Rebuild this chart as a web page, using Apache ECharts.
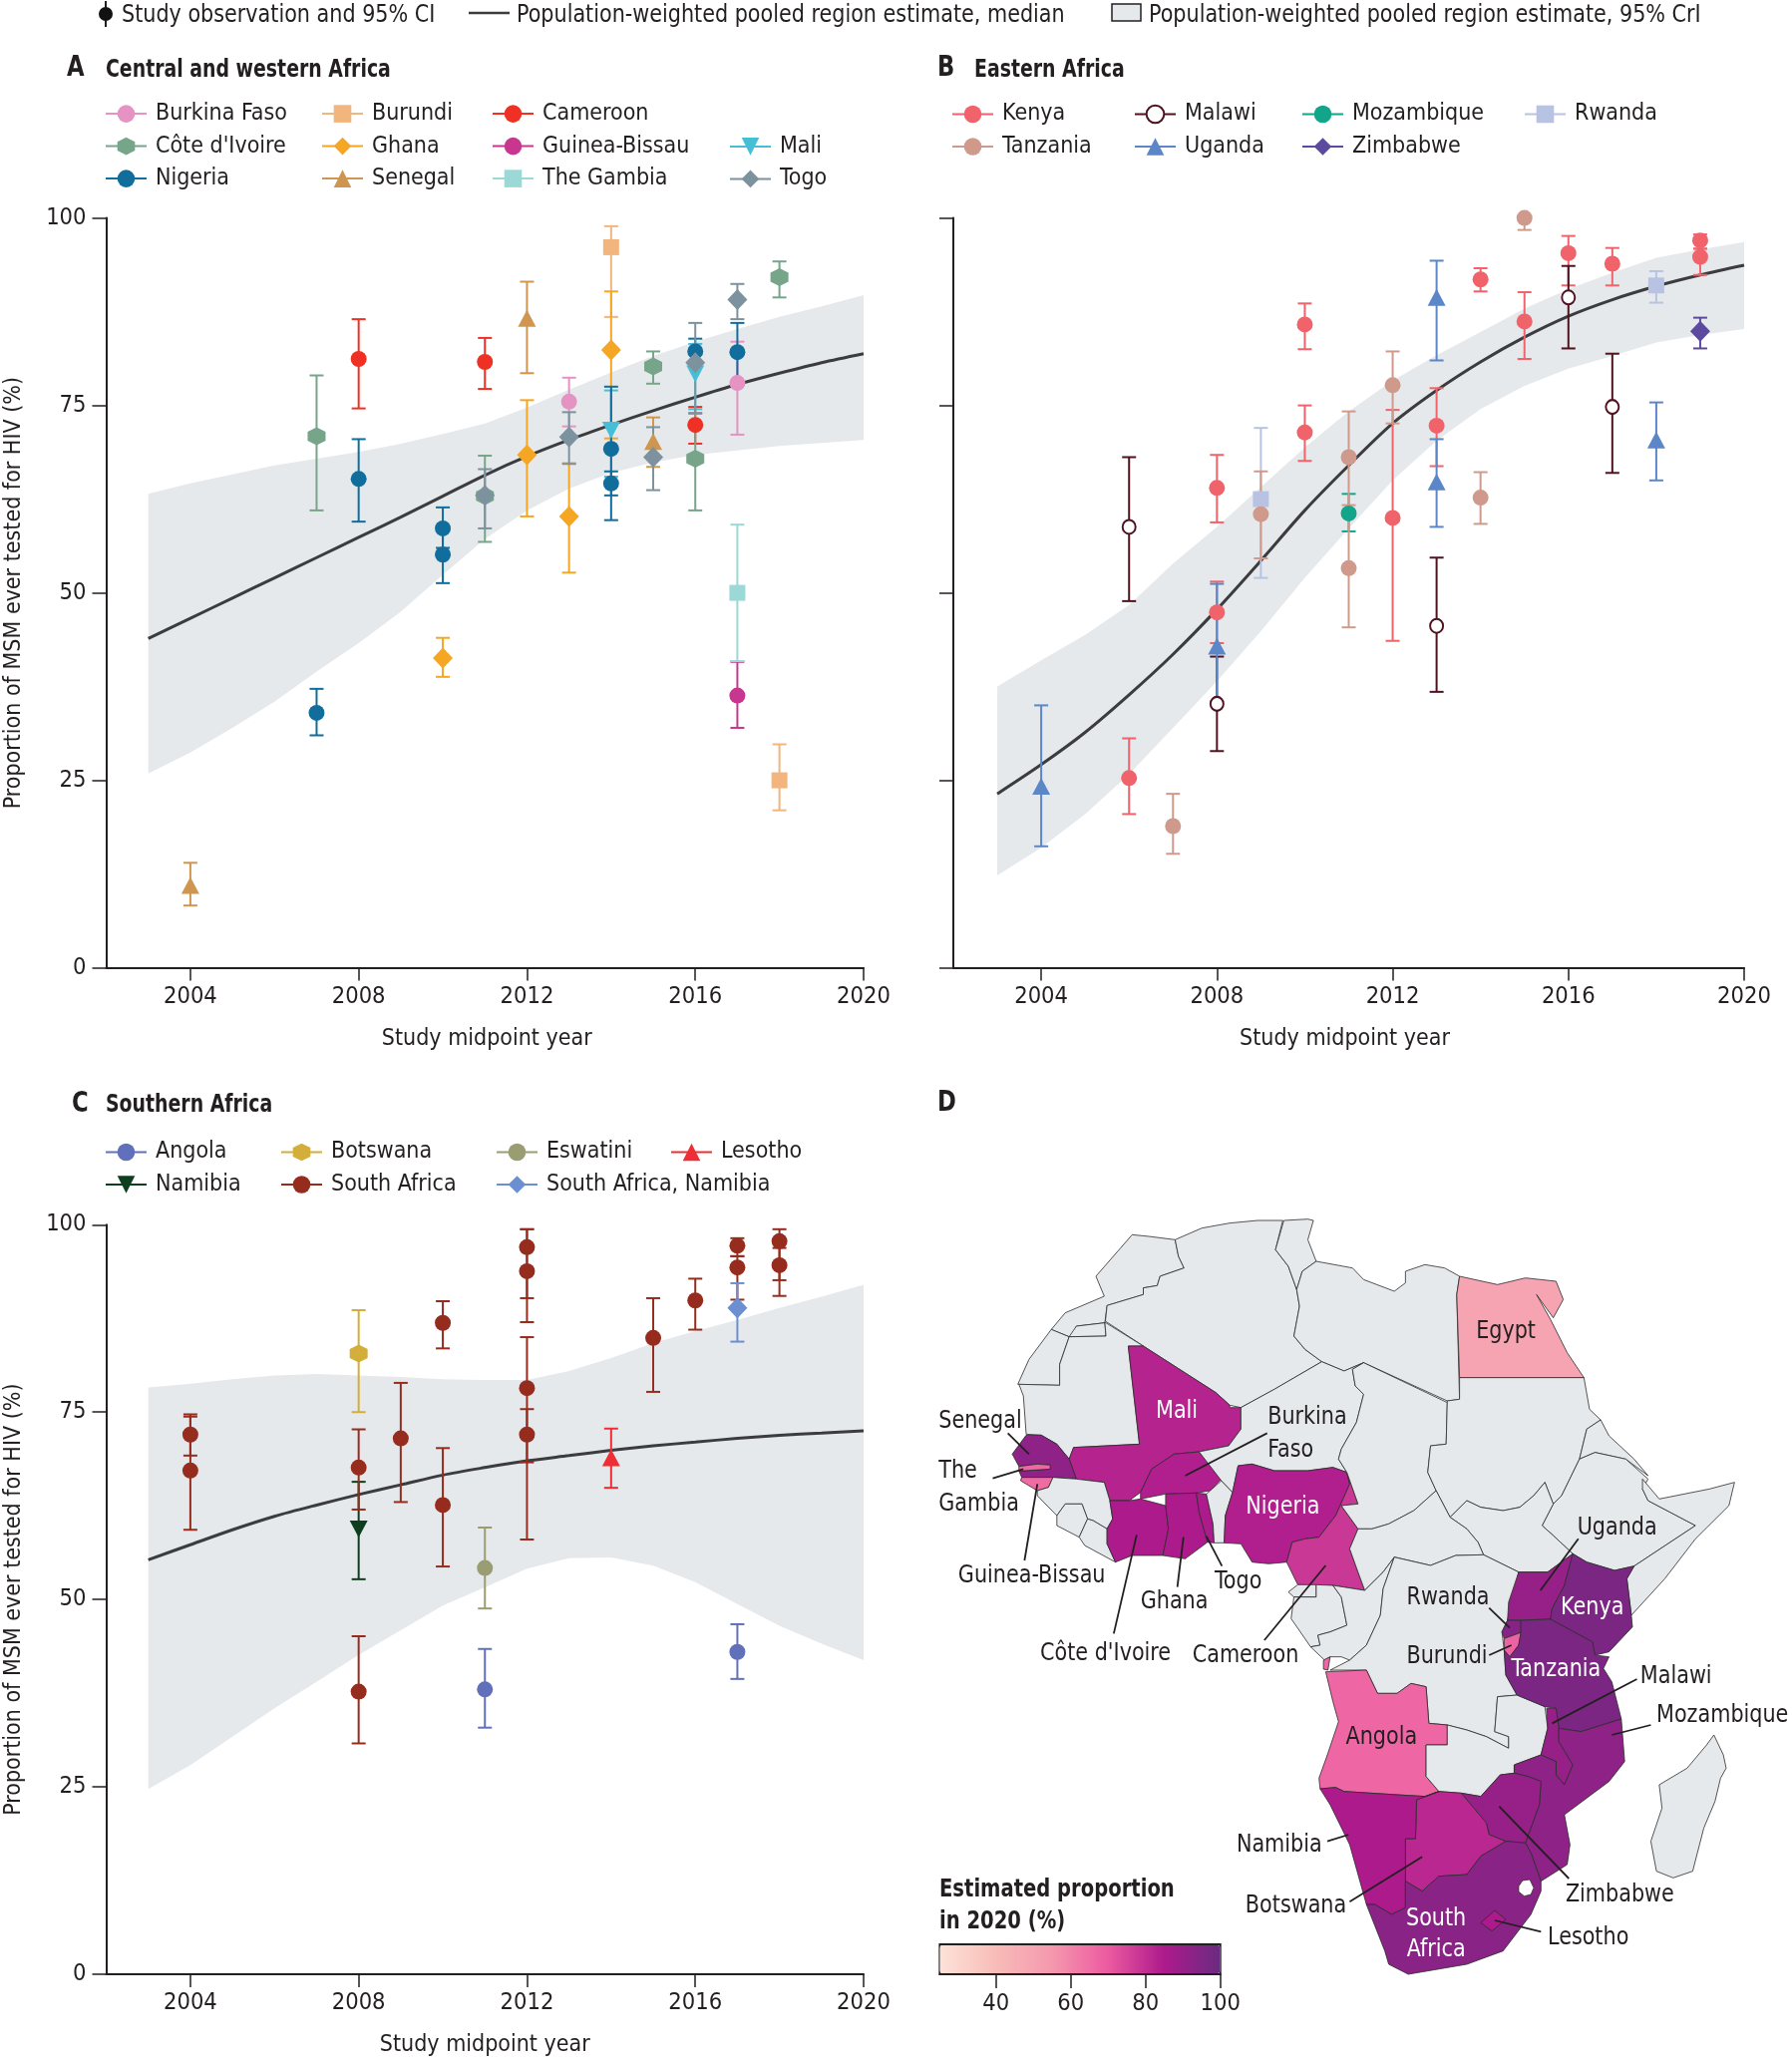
<!DOCTYPE html>
<html><head><meta charset="utf-8">
<style>html,body{margin:0;padding:0;background:#fff}#c{width:1797px;height:2063px}</style>
<script src="https://cdn.jsdelivr.net/npm/echarts@6/dist/echarts.min.js"></script>
</head><body><div id="c"></div>
<script>
const FONT = '"Liberation Sans Narrow","DejaVu Sans Condensed","Liberation Sans",sans-serif';
const FS = 23.5;
// each row: [year, estimate, lower CI, upper CI]
const burkinaFaso=[[2013,75.5,72.2,78.7],[2017,78,71.1,83.5]];
const burundi=[[2014,96.1,86.8,98.9],[2018,25,21,29.8]];
const cameroon=[[2008,81.2,74.6,86.5],[2011,80.8,77.2,84],[2016,72.4,69.9,74.8]];
const coteDIvoire=[[2007,70.9,61,79],[2011,62.9,56.8,68.3],[2015,80.2,77.9,82.2],[2016,67.9,61,73.9],[2018,92.1,89.4,94.2]];
const ghana=[[2010,41.3,38.8,44],[2012,68.4,60.2,75.7],[2013,60.2,52.7,67.3],[2014,82.4,70.6,90.2]];
const guineaBissau=[[2017,36.3,32,40.8]];
const mali=[[2014,71.7,65.5,77],[2016,79.2,74.5,83.2]];
const nigeria=[[2007,34,31,37.2],[2008,65.2,59.5,70.5],[2010,58.6,56,61.4],[2010,55.1,51.3,58.9],[2014,69.2,63,77.5],[2014,64.6,59.7,66.2],[2016,82.2,80.5,83.9],[2017,82.1,77.7,86]];
const senegal=[[2004,11,8.3,14],[2012,86.6,79.3,91.5],[2015,70.2,66.8,73.4]];
const theGambia=[[2017,50,40.9,59.1]];
const togo=[[2011,63,58.6,66.5],[2013,70.8,67.2,74.1],[2015,68.1,63.7,72.1],[2016,80.7,74,86],[2017,89.1,86.5,91.2]];

const kenya=[[2006,25.3,20.5,30.6],[2008,47.4,43.3,51.5],[2008,64,59.4,68.4],[2010,85.8,82.5,88.6],[2010,71.4,67.6,75],[2012,60,43.6,74.4],[2013,72.3,66.9,77.3],[2014,91.8,90.2,93.3],[2015,86.2,81.2,90.1],[2016,95.3,91,97.6],[2017,93.9,91,96],[2019,97,95.9,97.8],[2019,94.8,92.4,95.9]];
const tanzania=[[2007,18.9,15.2,23.2],[2009,60.5,54.6,66.2],[2011,68.1,61.7,74.2],[2011,53.3,45.4,61],[2012,77.7,72.6,82.2],[2014,62.7,59.2,66.1],[2015,100,98.4,100]];
const malawi=[[2006,58.8,48.9,68.1],[2008,35.2,28.9,41.5],[2013,45.6,36.8,54.7],[2016,89.4,82.6,93.6],[2017,74.8,66,81.9]];
const mozambique=[[2011,60.6,58.2,63.2]];
const rwanda=[[2009,62.5,52,72],[2018,91,88.7,92.9]];
const uganda=[[2004,24.2,16.2,35],[2008,42.9,35.5,51.2],[2013,89.4,81,94.3],[2013,64.8,58.8,70.5],[2018,70.4,65,75.4]];
const zimbabwe=[[2019,84.9,82.6,86.7]];

const angola=[[2011,38,32.9,43.4],[2017,43,39.4,46.7]];
const botswana=[[2008,82.8,75,88.6]];
const eswatini=[[2011,54.2,48.8,59.6]];
const lesotho=[[2014,68.9,64.9,72.8]];
const namibia=[[2008,59.4,52.7,65.7]];
const southAfrica=[[2004,72,69.2,74.7],[2004,67.2,59.3,74.4],[2008,67.6,62,72.7],[2008,37.7,30.8,45.1],[2009,71.5,63,78.9],[2010,86.9,83.5,89.8],[2010,62.6,54.4,70.2],[2012,97,90.2,99.4],[2012,93.8,87,99.4],[2012,78.2,68.3,85],[2012,72,58,75.4],[2015,84.9,77.7,90.2],[2016,89.9,86,92.8],[2017,97.2,95.8,98.2],[2017,94.3,90,95.8],[2018,97.8,92.6,99.4],[2018,94.6,90.5,96.9]];
const southAfricaNamibia=[[2017,88.9,84.4,92.2]];

const modelYears=[2003,2004,2005,2006,2007,2008,2009,2010,2011,2012,2013,2014,2015,2016,2017,2018,2019,2020];
const aMedian=[43.9,46.6,49.3,52,54.7,57.4,60.1,62.9,65.7,68.2,70.4,72.4,74.3,76.1,77.8,79.3,80.7,81.9];
const aUpper=[63.2,64.6,65.8,67,67.9,68.8,69.9,71.2,72.6,74.7,77.1,79.4,81.6,83.5,85.2,86.8,88.2,89.7];
const aLower=[25.9,28.7,32,35.5,39.5,43.3,47.5,52.4,57.2,61,63.9,66,67.4,68.4,69,69.6,70,70.4];
const bMedian=[23.2,27.1,31.4,36.4,41.8,47.8,54.3,61,67,72.6,77,80.8,84.1,86.9,89.1,90.9,92.4,93.7];
const bUpper=[37.5,41,44.4,48.4,53.9,58.8,64.1,69.4,74.2,78.3,81.7,84.8,87.9,90.5,92.7,94.7,95.8,96.8];
const bLower=[12.3,16,20.5,25.8,32,38.2,44.9,52,58.6,65,70.3,74.5,77.6,79.9,81.6,83.4,84.4,85.2];
const cMedian=[55.3,57.3,59.3,61.1,62.6,64,65.3,66.6,67.6,68.5,69.2,69.9,70.5,71,71.5,71.9,72.2,72.5];
const cUpper=[78.3,78.8,79.4,79.9,80.1,79.9,79.7,79.4,79.3,79.3,80.5,82.2,84.2,85.8,87.3,88.9,90.4,92];
const cLower=[24.7,27.9,31.7,35.5,39,42.6,45.9,49.2,51.6,54.1,55.5,55.6,54.5,52.3,49.4,46.5,44.1,41.9];

const xTickYears=[2004,2008,2012,2016,2020];
const mapValues={Senegal:92,'The Gambia':67,'Guinea-Bissau':66,Mali:83,'Burkina Faso':84,"Côte d'Ivoire":85,Ghana:85,Togo:85,Nigeria:84,Cameroon:78,Egypt:50,Uganda:90,Kenya:96,Rwanda:94,Burundi:68,Tanzania:96,Malawi:90,Mozambique:92,Zimbabwe:90,Botswana:82,Namibia:85,'South Africa':93,Lesotho:85,Angola:67,Cabinda:67};

const HEX='path://M5,0L10,2.5L10,7.5L5,10L0,7.5L0,2.5Z', DOWN='path://M0,0L10,0L5,10Z';
const C=(name,data,symbol,color,size,hollow)=>({name,data,symbol,color,size,hollow});
const DIA=[20,21],CIR=[16,16],TRI=[18,17],SQ=[16,16],HX=[18,18];
const panelA=[C('Burkina Faso',burkinaFaso,'circle','#e493c2',CIR),C('Burundi',burundi,'rect','#f2b57d',SQ),C('Cameroon',cameroon,'circle','#ee3124',CIR),
 C("Côte d'Ivoire",coteDIvoire,HEX,'#76a58a',HX),C('Ghana',ghana,'diamond','#f5a623',DIA),C('Guinea-Bissau',guineaBissau,'circle','#c7378f',CIR),C('Mali',mali,DOWN,'#46bfd6',TRI),
 C('Nigeria',nigeria,'circle','#106d9c',CIR),C('Senegal',senegal,'triangle','#ce9650',TRI),C('The Gambia',theGambia,'rect','#9bd8d6',SQ),C('Togo',togo,'diamond','#7c929e',DIA)];
const panelB=[C('Kenya',kenya,'circle','#f1636a',CIR),C('Malawi',malawi,'circle','#4f1320',[13,14],true),C('Mozambique',mozambique,'circle','#12a58a',CIR),C('Rwanda',rwanda,'rect','#b8c3e4',SQ),
 C('Tanzania',tanzania,'circle','#cf9a8c',CIR),C('Uganda',uganda,'triangle','#5b86c8',TRI),C('Zimbabwe',zimbabwe,'diamond','#5c4a9e',DIA)];
const panelC=[C('Angola',angola,'circle','#6070bb',CIR),C('Botswana',botswana,HEX,'#d3ae3a',HX),C('Eswatini',eswatini,'circle','#9a9d72',CIR),C('Lesotho',lesotho,'triangle','#ee2e34',TRI),
 C('Namibia',namibia,DOWN,'#0d3f1f',TRI),C('South Africa',southAfrica,'circle','#962c1e',CIR),C('South Africa, Namibia',southAfricaNamibia,'diamond','#6b8fd1',DIA)];

const series=[], grids=[], xAxes=[], yAxes=[];
function axes(idx,showLabels,namePad){
  const ink='#231f20';
  xAxes.push({type:'value',gridIndex:idx,min:2002,max:2020,name:'Study midpoint year',nameLocation:'middle',nameGap:60,
    nameTextStyle:{fontFamily:FONT,fontSize:23,color:ink,padding:namePad},
    axisLine:{onZero:false,lineStyle:{color:ink,width:2}},axisTick:{length:13,customValues:xTickYears,lineStyle:{color:ink,width:1.5}},
    axisLabel:{customValues:xTickYears,formatter:v=>String(v),fontFamily:FONT,fontSize:FS,color:ink,margin:17},splitLine:{show:false}});
  yAxes.push({type:'value',gridIndex:idx,min:0,max:100,interval:25,name:showLabels?'Proportion of MSM ever tested for HIV (%)':'',nameLocation:'middle',nameGap:81,
    nameTextStyle:{fontFamily:FONT,fontSize:23,color:ink},
    axisLine:{show:true,onZero:false,lineStyle:{color:ink,width:2}},axisTick:{show:true,length:14,lineStyle:{color:ink,width:1.5}},
    axisLabel:{show:showLabels,fontFamily:FONT,fontSize:FS,color:ink,margin:20},splitLine:{show:false}});
}
function band(idx,med,up,lo){
  series.push({type:'custom',name:'band'+idx,xAxisIndex:idx,yAxisIndex:idx,z:1,silent:true,
    data:modelYears.map((y,i)=>[y,lo[i],up[i]]),encode:{x:0,y:[1,2]},
    renderItem:(p,api)=>{
      if(p.dataIndex!==0) return null;
      const top=modelYears.map((y,i)=>api.coord([y,up[i]]));
      const bot=modelYears.map((y,i)=>api.coord([y,lo[i]])).reverse();
      return {type:'polygon',shape:{points:top.concat(bot)},style:{fill:'#e6e9ec'}};
    }});
  series.push({type:'line',name:'med'+idx,xAxisIndex:idx,yAxisIndex:idx,data:modelYears.map((y,i)=>[y,med[i]]),smooth:0.3,symbol:'none',lineStyle:{color:'#3c3c3e',width:3},z:3,silent:true});
}
function studies(idx,list){
  list.forEach(c=>{
    series.push({type:'custom',name:c.name+' CI',xAxisIndex:idx,yAxisIndex:idx,z:4,silent:true,clip:false,
      data:c.data.map(r=>[r[0],r[2],r[3]]),encode:{x:0,y:[1,2]},
      renderItem:(p,api)=>{
        const x=api.value(0),a=api.coord([x,api.value(1)]),b=api.coord([x,api.value(2)]);
        const st={stroke:c.color,lineWidth:2,fill:null};
        return {type:'group',children:[
          {type:'line',shape:{x1:a[0],y1:a[1],x2:b[0],y2:b[1]},style:st},
          {type:'line',shape:{x1:a[0]-7,y1:a[1],x2:a[0]+7,y2:a[1]},style:st},
          {type:'line',shape:{x1:b[0]-7,y1:b[1],x2:b[0]+7,y2:b[1]},style:st}]};
      }});
    const d=[];c.data.forEach(r=>{d.push([r[0],r[1]]);d.push([r[0],null]);});
    series.push({type:'line',name:c.name,xAxisIndex:idx,yAxisIndex:idx,z:5,clip:false,silent:true,data:d,symbol:c.symbol,symbolSize:c.size,showSymbol:true,showAllSymbol:true,connectNulls:false,
      lineStyle:{color:c.color,width:2},itemStyle:c.hollow?{color:'#fff',borderColor:c.color,borderWidth:2,opacity:1}:{color:c.color,opacity:1},emphasis:{disabled:true}});
  });
}
grids.push({outerBoundsMode:'none',left:106.5,top:218.6,width:759.5,height:752});
grids.push({outerBoundsMode:'none',left:956,top:218.6,width:793,height:752});
grids.push({outerBoundsMode:'none',left:106.5,top:1228.3,width:759.5,height:751.7});
axes(0,true,[0,0,0,4]);axes(1,false,[0,8,0,0]);axes(2,true,[0,0,0,0]);
band(0,aMedian,aUpper,aLower);band(1,bMedian,bUpper,bLower);band(2,cMedian,cUpper,cLower);
studies(0,panelA);studies(1,panelB);studies(2,panelC);

const legends=[];
function legendCol(x,rowY,names){
  legends.push({left:x,top:rowY-11,orient:'vertical',padding:0,itemWidth:41,itemHeight:22,itemGap:9.5,selectedMode:false,
    data:names,textStyle:{fontFamily:FONT,fontSize:23,color:'#231f20',padding:[0,0,0,4]}});
}
legendCol(105,113.6,['Burkina Faso',"Côte d'Ivoire",'Nigeria']);
legendCol(322,113.6,['Burundi','Ghana','Senegal']);
legendCol(493,113.6,['Cameroon','Guinea-Bissau','The Gambia']);
legendCol(731,146.4,['Mali','Togo']);
legendCol(954,114,['Kenya','Tanzania']);
legendCol(1137,114,['Malawi','Uganda']);
legendCol(1305,114,['Mozambique','Zimbabwe']);
legendCol(1528,114,['Rwanda']);
legendCol(105,1155,['Angola','Namibia']);
legendCol(281,1155,['Botswana','South Africa']);
legendCol(497,1155,['Eswatini','South Africa, Namibia']);
legendCol(672,1155,['Lesotho']);

// --- panel D outlines, traced in reference crop units
const px=X=>920+X/1.788, py=Y=>1200+Y/3;
const R={
 'Morocco':[[385,115],[415,120],[462,130],[468,180],[478,215],[435,240],[430,268],[405,275],[405,295],[340,328],[336,380],[285,390],[278,420],[272,422],[240,400],[265,350],[335,300],[320,240]],
 'W Sahara':[[180,565],[200,490],[240,400],[272,422],[285,390],[336,380],[338,420],[272,422],[255,505],[255,568]],
 'Algeria':[[462,130],[510,95],[560,80],[610,72],[655,72],[642,160],[665,210],[680,280],[685,330],[675,420],[695,460],[725,497],[640,580],[580,635],[560,628],[535,590],[405,450],[337,375],[340,328],[405,295],[405,275],[430,268],[435,240],[478,215],[468,180]],
 'Tunisia':[[657,72],[700,68],[710,72],[700,130],[715,195],[690,225],[680,280],[665,210],[642,160]],
 'Libya':[[715,195],[780,215],[800,250],[855,285],[875,260],[875,225],[910,205],[945,215],[972,240],[967,295],[972,610],[950,615],[800,500],[765,525],[725,497],[695,460],[675,420],[685,330],[680,280],[690,225]],
 'Egypt':[[972,240],[1040,265],[1090,245],[1145,255],[1158,310],[1140,365],[1110,295],[1135,370],[1165,470],[1195,545],[972,545],[967,295]],
 'Mauritania':[[182,565],[255,568],[255,505],[272,422],[338,420],[336,378],[405,450],[378,450],[398,745],[280,755],[272,790],[250,745],[222,718],[195,715],[190,600]],
 'Mali':[[378,450],[405,450],[535,590],[560,628],[560,635],[580,635],[580,700],[558,750],[505,768],[460,775],[420,820],[400,890],[380,915],[345,915],[335,860],[285,850],[272,790],[280,755],[398,745]],
 'Burkina Faso':[[460,775],[505,768],[545,850],[525,885],[500,892],[445,895],[400,910],[400,890],[420,820]],
 'Senegal':[[170,775],[195,718],[222,718],[250,745],[272,790],[285,850],[243,845],[187,845],[182,826],[238,820],[238,808],[215,805],[182,812]],
 'The Gambia':[[182,812],[215,805],[238,808],[238,820],[182,826]],
 'Guinea-Bissau':[[187,845],[243,845],[235,875],[215,885],[185,855]],
 'Guinea':[[243,845],[285,850],[335,860],[345,915],[350,970],[340,1000],[315,975],[305,970],[295,925],[265,925],[250,960],[215,900],[215,885],[235,875]],
 'Sierra Leone':[[250,960],[265,925],[295,925],[305,970],[290,1025],[250,990]],
 'Liberia':[[290,1025],[305,970],[315,975],[340,1000],[340,1045],[355,1100],[300,1050]],
 "Côte d'Ivoire":[[345,915],[380,915],[400,910],[445,930],[450,1000],[440,1080],[385,1080],[355,1100],[340,1045],[340,1000],[350,970]],
 'Ghana':[[445,895],[500,892],[505,950],[520,1040],[480,1090],[440,1080],[450,1000],[445,930]],
 'Togo':[[500,892],[518,895],[530,985],[532,1042],[520,1040],[505,950]],
 'Benin':[[518,895],[525,885],[545,855],[565,890],[552,960],[550,1042],[532,1042],[530,985]],
 'Niger':[[580,635],[640,580],[725,497],[765,525],[800,500],[780,520],[785,570],[800,595],[787,680],[760,760],[755,790],[770,830],[745,815],[700,825],[640,825],[600,805],[575,810],[565,890],[545,855],[505,768],[558,750],[580,700]],
 'Nigeria':[[575,810],[600,805],[640,825],[700,825],[745,815],[770,830],[775,865],[750,960],[720,1025],[695,1030],[672,1040],[662,1100],[630,1105],[600,1100],[580,1045],[550,1042],[552,960],[565,890]],
 'Cameroon':[[770,830],[790,925],[760,930],[790,1000],[775,1060],[790,1130],[802,1185],[745,1170],[682,1168],[662,1100],[672,1040],[695,1030],[720,1025],[750,960],[775,865]],
 'Chad':[[800,500],[950,620],[948,745],[920,750],[915,830],[930,885],[890,945],[845,985],[815,1000],[790,1000],[760,930],[790,925],[770,830],[755,790],[760,760],[787,680],[800,595],[785,570],[780,520]],
 'Sudan':[[972,545],[1195,545],[1205,640],[1225,672],[1200,700],[1187,790],[1155,900],[1140,925],[1125,860],[1105,900],[1080,935],[1050,945],[1010,935],[985,915],[955,965],[930,885],[915,830],[920,750],[948,745],[950,615],[972,610]],
 'Eritrea':[[1200,700],[1225,672],[1240,720],[1285,790],[1310,840],[1270,790],[1215,770],[1187,790]],
 'Ethiopia':[[1187,790],[1215,770],[1270,790],[1310,850],[1300,880],[1310,915],[1395,990],[1285,1112],[1250,1125],[1200,1100],[1175,1075],[1140,1020],[1120,990],[1140,925],[1155,900]],
 'Somalia':[[1300,850],[1330,910],[1420,880],[1465,860],[1455,930],[1395,1030],[1340,1150],[1280,1260],[1272,1150],[1285,1112],[1395,990],[1310,915],[1300,880]],
 'South Sudan':[[955,965],[985,915],[1010,935],[1050,945],[1080,935],[1105,900],[1125,860],[1140,925],[1120,990],[1140,1020],[1175,1075],[1130,1130],[1078,1130],[1015,1078],[1005,1040],[985,1000]],
 'CAR':[[790,1000],[815,1000],[845,985],[890,945],[930,885],[955,965],[985,1000],[1005,1040],[1015,1078],[965,1080],[920,1110],[855,1085],[835,1130],[802,1185],[790,1130],[775,1060]],
 'Eq Guinea':[[682,1168],[715,1168],[715,1205],[675,1205],[665,1190]],
 'Gabon':[[715,1168],[745,1170],[760,1205],[770,1290],[740,1310],[718,1320],[722,1350],[705,1355],[670,1270],[675,1205],[715,1205]],
 'Congo':[[745,1170],[802,1185],[835,1130],[855,1085],[835,1180],[830,1260],[805,1350],[775,1395],[760,1385],[740,1385],[730,1395],[705,1355],[722,1350],[718,1320],[740,1310],[770,1290],[760,1205]],
 'Cabinda':[[728,1395],[740,1385],[736,1425],[728,1422]],
 'DRC':[[855,1085],[920,1110],[965,1080],[1015,1078],[1078,1130],[1058,1275],[1048,1310],[1052,1365],[1055,1440],[1075,1500],[1040,1505],[1035,1610],[1060,1625],[1060,1660],[1020,1625],[985,1605],[950,1590],[917,1585],[912,1475],[885,1465],[860,1495],[825,1495],[805,1425],[740,1425],[775,1395],[805,1350],[830,1260],[835,1180]],
 'Angola':[[732,1430],[805,1425],[825,1495],[860,1495],[885,1465],[912,1475],[917,1585],[950,1590],[950,1650],[912,1650],[912,1745],[935,1790],[910,1805],[860,1800],[765,1790],[750,1778],[722,1782],[720,1750],[735,1680],[755,1580],[745,1520]],
 'Zambia':[[912,1650],[950,1650],[950,1590],[985,1605],[1020,1625],[1060,1660],[1060,1625],[1035,1610],[1040,1505],[1075,1500],[1125,1535],[1130,1600],[1118,1680],[1070,1710],[1070,1735],[1045,1740],[1010,1805],[975,1795],[935,1790],[912,1745]],
 'Uganda':[[1078,1130],[1130,1130],[1175,1075],[1160,1170],[1138,1240],[1135,1272],[1058,1275],[1060,1220]],
 'Kenya':[[1175,1075],[1200,1100],[1250,1125],[1285,1112],[1272,1150],[1280,1260],[1282,1295],[1240,1370],[1215,1380],[1210,1340],[1135,1272],[1138,1240],[1160,1170]],
 'Rwanda':[[1058,1275],[1082,1275],[1082,1312],[1052,1330],[1048,1310]],
 'Burundi':[[1052,1330],[1082,1312],[1078,1350],[1062,1385],[1052,1365]],
 'Tanzania':[[1082,1275],[1135,1272],[1210,1340],[1215,1380],[1240,1385],[1230,1420],[1245,1460],[1262,1572],[1190,1610],[1150,1600],[1145,1540],[1125,1535],[1075,1500],[1055,1440],[1052,1365],[1062,1385],[1078,1350],[1082,1312]],
 'Malawi':[[1128,1540],[1145,1540],[1150,1600],[1150,1640],[1175,1710],[1160,1770],[1145,1740],[1145,1700],[1118,1680],[1130,1600]],
 'Mozambique':[[1150,1600],[1190,1610],[1262,1572],[1268,1700],[1240,1760],[1160,1860],[1170,1950],[1165,2010],[1118,2060],[1100,1975],[1090,1945],[1115,1830],[1118,1760],[1095,1745],[1070,1735],[1070,1710],[1118,1680],[1145,1700],[1145,1740],[1160,1770],[1175,1710],[1150,1640]],
 'Zimbabwe':[[1045,1740],[1070,1735],[1095,1745],[1118,1760],[1115,1830],[1090,1945],[1055,1940],[1025,1920],[1020,1885],[975,1795],[1010,1805]],
 'Botswana':[[895,1815],[935,1790],[975,1795],[1020,1885],[1025,1920],[1055,1940],[1010,1985],[985,2040],[935,2045],[905,2090],[875,2060],[875,1932],[893,1932]],
 'Namibia':[[722,1782],[750,1778],[765,1790],[860,1800],[910,1805],[935,1790],[895,1815],[893,1932],[875,1932],[875,2140],[850,2160],[820,2130],[805,2130],[775,1950],[740,1830]],
 'South Africa':[[805,2130],[820,2130],[850,2160],[875,2140],[875,2060],[905,2090],[935,2045],[985,2040],[1010,1985],[1055,1940],[1090,1945],[1100,1975],[1118,2060],[1118,2090],[1100,2160],[1050,2270],[985,2310],[880,2340],[845,2310],[838,2270]],
 'Eswatini':[[1078,2075],[1085,2058],[1098,2055],[1105,2080],[1100,2100],[1088,2105],[1078,2092]],
 'Lesotho':[[1035,2148],[1055,2175],[1030,2210],[1010,2185]],
 'Madagascar':[[1428,1620],[1445,1680],[1450,1720],[1440,1750],[1430,1820],[1410,1900],[1390,2030],[1355,2050],[1325,2030],[1315,1940],[1335,1840],[1330,1770],[1380,1720],[1415,1650]]
};
const features=Object.keys(R).map(name=>{
  const ring=R[name].map(([X,Y])=>[px(X),-py(Y)]);ring.push(ring[0]);
  return {type:'Feature',properties:{name},geometry:{type:'Polygon',coordinates:[ring]}};
});
echarts.registerMap('africa',{type:'FeatureCollection',features});
let x0=1e9,x1=-1e9,y0=1e9,y1=-1e9;
features.forEach(f=>f.geometry.coordinates[0].forEach(([a,b])=>{x0=Math.min(x0,a);x1=Math.max(x1,a);y0=Math.min(y0,-b);y1=Math.max(y1,-b);}));
const mapData=Object.keys(mapValues).map(name=>({name,value:mapValues[name]}));
mapData.push({name:'Eswatini',itemStyle:{areaColor:'#ffffff'}});
series.push({type:'map',map:'africa',aspectScale:1,roam:false,silent:true,showLegendSymbol:false,left:x0,top:y0,width:x1-x0,height:y1-y0,data:mapData,
  label:{show:false},emphasis:{disabled:true},select:{disabled:true},itemStyle:{areaColor:'#e6e9ec',borderColor:'#2b2b2b',borderWidth:0.8},z:2});

// colour key axis
grids.push({outerBoundsMode:'none',left:942.4,top:1950,width:281.3,height:30,show:true,borderColor:'#231f20',borderWidth:2,backgroundColor:'transparent'});
xAxes.push({type:'value',gridIndex:3,min:25,max:100,position:'bottom',
  axisLine:{lineStyle:{color:'#231f20',width:2}},axisTick:{customValues:[40,60,80,100],length:14,lineStyle:{color:'#231f20',width:1.5}},
  axisLabel:{customValues:[40,60,80,100],fontFamily:FONT,fontSize:FS,color:'#231f20',margin:18},splitLine:{show:false}});
yAxes.push({type:'value',gridIndex:3,show:false});

const T=(x,y,text,o={})=>({type:'text',x,y:y+2,scaleX:o.sx||0.96,silent:true,z:20,style:Object.assign({text,fill:'#231f20',font:(o.bold?'bold ':'')+(o.size||24)+'px '+FONT,textAlign:o.align||'left',textVerticalAlign:'middle'},o.white?{fill:'#fff'}:{})});
const L=(a,b,c,d,w,col)=>({type:'line',silent:true,z:19,shape:{x1:a,y1:b,x2:c,y2:d},style:{stroke:col||'#231f20',lineWidth:w||1.8}});
const ML=(a,b,c,d)=>L(px(a),py(b),px(c),py(d));
const MT=(X,Y,text,o)=>T(px(X),py(Y),text,o);
const H={bold:true,size:25,sx:0.84}, P={bold:true,size:28,sx:0.9};
const graphic=[
 L(106,1,106,27,2),{type:'circle',silent:true,z:20,shape:{cx:106,cy:14,r:7},style:{fill:'#111'}},T(122,14,'Study observation and 95% CI'),
 L(470,13,511,13,2.5,'#3c3c3e'),T(518,14,'Population-weighted pooled region estimate, median'),
 {type:'rect',silent:true,z:20,shape:{x:1115,y:4,width:29,height:17},style:{fill:'#e6e9ec',stroke:'#231f20',lineWidth:1.5}},T(1152,14,'Population-weighted pooled region estimate, 95% CrI'),
 T(67,67,'A',P),T(106,68,'Central and western Africa',H),
 T(940,67,'B',P),T(977,68,'Eastern Africa',H),
 T(72,1106,'C',P),T(106,1106,'Southern Africa',H),
 T(940,1105,'D',P),
 T(942,1893,'Estimated proportion',{bold:true,size:25,sx:0.87}),T(942,1925,'in 2020 (%)',{bold:true,size:25,sx:0.87}),
 MT(38,672,'Senegal'),MT(38,820,'The'),MT(38,920,'Gambia'),MT(628,660,'Burkina'),MT(628,758,'Faso'),
 MT(465,642,'Mali',{white:true,align:'center'}),MT(655,928,'Nigeria',{white:true,align:'center'}),MT(1055,402,'Egypt',{align:'center'}),
 MT(73,1137,'Guinea-Bissau'),MT(533,1155,'Togo'),MT(400,1215,'Ghana'),MT(220,1370,"Côte d'Ivoire"),MT(493,1375,'Cameroon'),
 MT(877,1203,'Rwanda'),MT(877,1380,'Burundi'),MT(1183,993,'Uganda'),MT(1210,1232,'Kenya',{white:true,align:'center'}),
 MT(1145,1418,'Tanzania',{white:true,align:'center'}),MT(1296,1440,'Malawi'),MT(1325,1557,'Mozambique'),MT(832,1623,'Angola',{align:'center'}),
 MT(572,1945,'Namibia'),MT(588,2130,'Botswana'),MT(1162,2095,'Zimbabwe'),MT(930,2168,'South',{white:true,align:'center'}),MT(930,2262,'Africa',{white:true,align:'center'}),MT(1130,2225,'Lesotho'),
 ML(162,712,200,775),ML(135,848,190,820),ML(192,1095,215,865),ML(627,712,480,840),ML(352,1315,393,1018),ML(466,1175,477,1025),ML(546,1112,518,1022),ML(622,1335,732,1110),
 ML(1025,1238,1062,1298),ML(1185,1030,1117,1185),ML(1025,1380,1065,1350),ML(1290,1452,1138,1585),ML(1315,1590,1245,1620),ML(735,1940,773,1920),ML(775,2122,905,1987),ML(1168,2052,1043,1835),ML(1118,2212,1035,2178)
];

const chart=echarts.init(document.getElementById('c'),null,{renderer:'canvas',width:1797,height:2063});
chart.setOption({animation:false,backgroundColor:'#fff',textStyle:{fontFamily:FONT},grid:grids,xAxis:xAxes,yAxis:yAxes,series,legend:legends,graphic,
  visualMap:{type:'continuous',min:25,max:100,seriesIndex:series.findIndex(s=>s.type==='map'),orient:'horizontal',left:942.4,top:1951,itemWidth:28,itemHeight:281.3,calculable:false,realtime:false,hoverLink:false,padding:0,text:null,showLabel:false,
    inRange:{color:['#fde3d8','#f8bcb8','#f598ae','#ec5aa0','#ad1a8c','#6a2b80']}}});
</script></body></html>
